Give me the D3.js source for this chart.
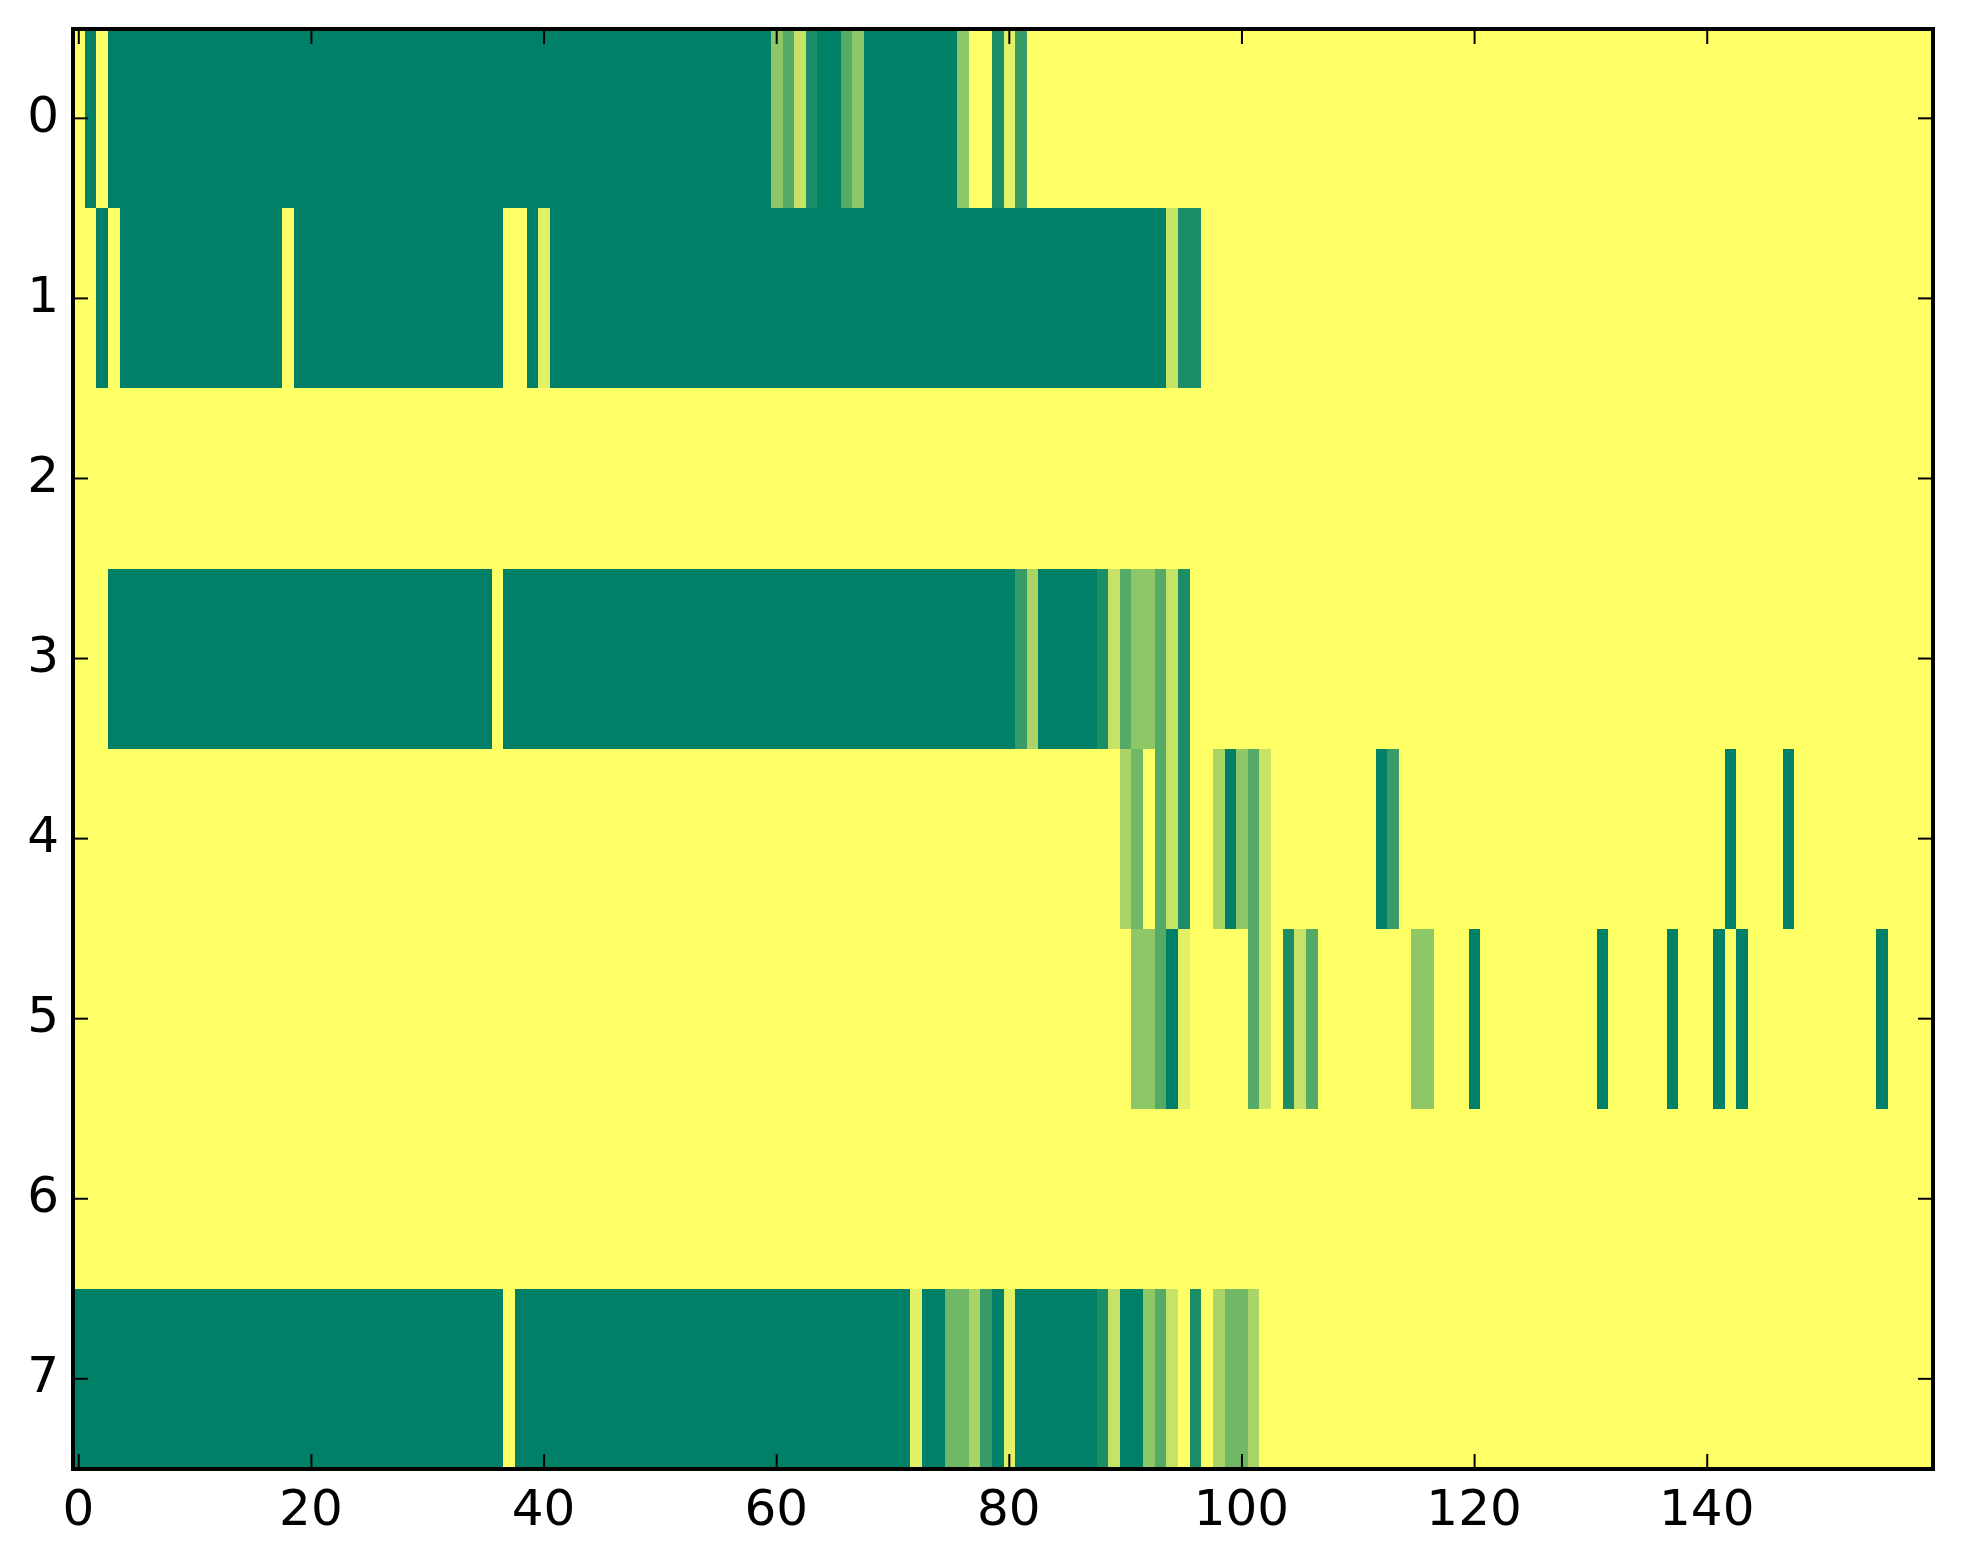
<!DOCTYPE html>
<html>
<head>
<meta charset="utf-8">
<script src="https://cdn.jsdelivr.net/npm/d3@7/dist/d3.min.js"></script>
<style>
html,body{margin:0;padding:0;background:#fff;}
svg{display:block;}
</style>
</head>
<body>
<svg id="chart"></svg>
<script>
const xTicks = [0,20,40,60,80,100,120,140];
const yTicks = [0,1,2,3,4,5,6,7];
const levelMax = 9;

const row0 = [
0,9,0,9,9,9,9,9,9,9, 9,9,9,9,9,9,9,9,9,9, 9,9,9,9,9,9,9,9,9,9, 9,9,9,9,9,9,9,9,9,9,
9,9,9,9,9,9,9,9,9,9, 9,9,9,9,9,9,9,9,9,9, 4,6,2,8,9,9,6,4,9,9, 9,9,9,9,9,9,4,0,0,8,
1,7,0,0,0,0,0,0,0,0, 0,0,0,0,0,0,0,0,0,0, 0,0,0,0,0,0,0,0,0,0, 0,0,0,0,0,0,0,0,0,0,
0,0,0,0,0,0,0,0,0,0, 0,0,0,0,0,0,0,0,0,0, 0,0,0,0,0,0,0,0,0,0, 0,0,0,0,0,0,0,0,0,0];
const row1 = [
0,0,9,0,9,9,9,9,9,9, 9,9,9,9,9,9,9,9,0,9, 9,9,9,9,9,9,9,9,9,9, 9,9,9,9,9,9,9,0,0,9,
1,9,9,9,9,9,9,9,9,9, 9,9,9,9,9,9,9,9,9,9, 9,9,9,9,9,9,9,9,9,9, 9,9,9,9,9,9,9,9,9,9,
9,9,9,9,9,9,9,9,9,9, 9,9,9,9,2,8,8,0,0,0, 0,0,0,0,0,0,0,0,0,0, 0,0,0,0,0,0,0,0,0,0,
0,0,0,0,0,0,0,0,0,0, 0,0,0,0,0,0,0,0,0,0, 0,0,0,0,0,0,0,0,0,0, 0,0,0,0,0,0,0,0,0,0];
const row2 = [
0,0,0,0,0,0,0,0,0,0, 0,0,0,0,0,0,0,0,0,0, 0,0,0,0,0,0,0,0,0,0, 0,0,0,0,0,0,0,0,0,0,
0,0,0,0,0,0,0,0,0,0, 0,0,0,0,0,0,0,0,0,0, 0,0,0,0,0,0,0,0,0,0, 0,0,0,0,0,0,0,0,0,0,
0,0,0,0,0,0,0,0,0,0, 0,0,0,0,0,0,0,0,0,0, 0,0,0,0,0,0,0,0,0,0, 0,0,0,0,0,0,0,0,0,0,
0,0,0,0,0,0,0,0,0,0, 0,0,0,0,0,0,0,0,0,0, 0,0,0,0,0,0,0,0,0,0, 0,0,0,0,0,0,0,0,0,0];
const row3 = [
0,0,0,9,9,9,9,9,9,9, 9,9,9,9,9,9,9,9,9,9, 9,9,9,9,9,9,9,9,9,9, 9,9,9,9,9,9,0,9,9,9,
9,9,9,9,9,9,9,9,9,9, 9,9,9,9,9,9,9,9,9,9, 9,9,9,9,9,9,9,9,9,9, 9,9,9,9,9,9,9,9,9,9,
9,7,3,9,9,9,9,9,8,2, 6,4,4,6,2,8,0,0,0,0, 0,0,0,0,0,0,0,0,0,0, 0,0,0,0,0,0,0,0,0,0,
0,0,0,0,0,0,0,0,0,0, 0,0,0,0,0,0,0,0,0,0, 0,0,0,0,0,0,0,0,0,0, 0,0,0,0,0,0,0,0,0,0];
const row4 = [
0,0,0,0,0,0,0,0,0,0, 0,0,0,0,0,0,0,0,0,0, 0,0,0,0,0,0,0,0,0,0, 0,0,0,0,0,0,0,0,0,0,
0,0,0,0,0,0,0,0,0,0, 0,0,0,0,0,0,0,0,0,0, 0,0,0,0,0,0,0,0,0,0, 0,0,0,0,0,0,0,0,0,0,
0,0,0,0,0,0,0,0,0,0, 3,5,0,6,2,8,0,0,3,9, 4,6,2,0,0,0,0,0,0,0, 0,0,9,7,0,0,0,0,0,0,
0,0,0,0,0,0,0,0,0,0, 0,0,0,0,0,0,0,0,0,0, 0,0,9,0,0,0,0,9,0,0, 0,0,0,0,0,0,0,0,0,0];
const row5 = [
0,0,0,0,0,0,0,0,0,0, 0,0,0,0,0,0,0,0,0,0, 0,0,0,0,0,0,0,0,0,0, 0,0,0,0,0,0,0,0,0,0,
0,0,0,0,0,0,0,0,0,0, 0,0,0,0,0,0,0,0,0,0, 0,0,0,0,0,0,0,0,0,0, 0,0,0,0,0,0,0,0,0,0,
0,0,0,0,0,0,0,0,0,0, 0,4,4,6,9,1,0,0,0,0, 0,6,2,0,8,2,6,0,0,0, 0,0,0,0,0,4,4,0,0,0,
9,0,0,0,0,0,0,0,0,0, 0,9,0,0,0,0,0,9,0,0, 0,9,0,9,0,0,0,0,0,0, 0,0,0,0,0,9,0,0,0,0];
const row6 = [
0,0,0,0,0,0,0,0,0,0, 0,0,0,0,0,0,0,0,0,0, 0,0,0,0,0,0,0,0,0,0, 0,0,0,0,0,0,0,0,0,0,
0,0,0,0,0,0,0,0,0,0, 0,0,0,0,0,0,0,0,0,0, 0,0,0,0,0,0,0,0,0,0, 0,0,0,0,0,0,0,0,0,0,
0,0,0,0,0,0,0,0,0,0, 0,0,0,0,0,0,0,0,0,0, 0,0,0,0,0,0,0,0,0,0, 0,0,0,0,0,0,0,0,0,0,
0,0,0,0,0,0,0,0,0,0, 0,0,0,0,0,0,0,0,0,0, 0,0,0,0,0,0,0,0,0,0, 0,0,0,0,0,0,0,0,0,0];
const row7 = [
9,9,9,9,9,9,9,9,9,9, 9,9,9,9,9,9,9,9,9,9, 9,9,9,9,9,9,9,9,9,9, 9,9,9,9,9,9,9,0,9,9,
9,9,9,9,9,9,9,9,9,9, 9,9,9,9,9,9,9,9,9,9, 9,9,9,9,9,9,9,9,9,9, 9,9,1,9,9,5,5,3,7,9,
1,9,9,9,9,9,9,9,8,2, 9,9,4,6,2,0,8,0,3,5, 5,3,0,0,0,0,0,0,0,0, 0,0,0,0,0,0,0,0,0,0,
0,0,0,0,0,0,0,0,0,0, 0,0,0,0,0,0,0,0,0,0, 0,0,0,0,0,0,0,0,0,0, 0,0,0,0,0,0,0,0,0,0];
const rows = [row0,row1,row2,row3,row4,row5,row6,row7];

const W = 1963, H = 1564;
const left = 73, right = 1933, top_ = 29, bottom = 1469;
const fontSize = 50;

const x = d3.scaleLinear().domain([-0.5,159.5]).range([left-0.02,right+1.04]);
const y = d3.scaleLinear().domain([-0.5,7.5]).range([top_-0.7,bottom-0.14]);
const color = d3.scaleLinear().domain([0,levelMax]).range(["#ffff66","#008066"]);

const svg = d3.select("#chart").attr("width",W).attr("height",H).attr("viewBox",[0,0,W,H]);

svg.append("g").attr("shape-rendering","crispEdges")
  .selectAll("g").data(rows).join("g")
  .each(function(row,r){
    d3.select(this).selectAll("rect").data(row).join("rect")
      .attr("x",(d,i)=>x(i-0.5))
      .attr("y",y(r-0.5))
      .attr("width",(d,i)=>x(i+0.5)-x(i-0.5)+0.5)
      .attr("height",y(r+0.5)-y(r-0.5)+0.5)
      .attr("fill",d=>color(d));
  });

function style(g){
  g.select(".domain").remove();
  g.selectAll(".tick line").attr("stroke","#000").attr("stroke-width",2);
  g.selectAll(".tick text")
    .attr("font-family","'DejaVu Sans'")
    .attr("font-size",fontSize)
    .attr("fill","#000");
}
const tickLen = 15;
svg.append("g").attr("transform",`translate(0,${bottom})`)
  .call(d3.axisBottom(x).offset(0).tickValues(xTicks).tickSize(-tickLen).tickPadding(20).tickFormat(d3.format("d")))
  .call(style)
  .call(g=>g.selectAll(".tick text").attr("dx",-0.5));
svg.append("g").attr("transform",`translate(0,${top_})`)
  .call(d3.axisTop(x).offset(0).tickValues(xTicks).tickSize(-tickLen).tickFormat(""))
  .call(style);
svg.append("g").attr("transform",`translate(${left},0)`)
  .call(d3.axisLeft(y).offset(0).tickValues(yTicks).tickSize(-tickLen).tickPadding(14).tickFormat(d3.format("d")))
  .call(style)
  .call(g=>g.selectAll(".tick text").attr("dy","0.27em"));
svg.append("g").attr("transform",`translate(${right},0)`)
  .call(d3.axisRight(y).offset(0).tickValues(yTicks).tickSize(-tickLen).tickFormat(""))
  .call(style);

svg.append("rect")
  .attr("x",left).attr("y",top_)
  .attr("width",right-left).attr("height",bottom-top_)
  .attr("fill","none").attr("stroke","#000").attr("stroke-width",4);
</script>
</body>
</html>
